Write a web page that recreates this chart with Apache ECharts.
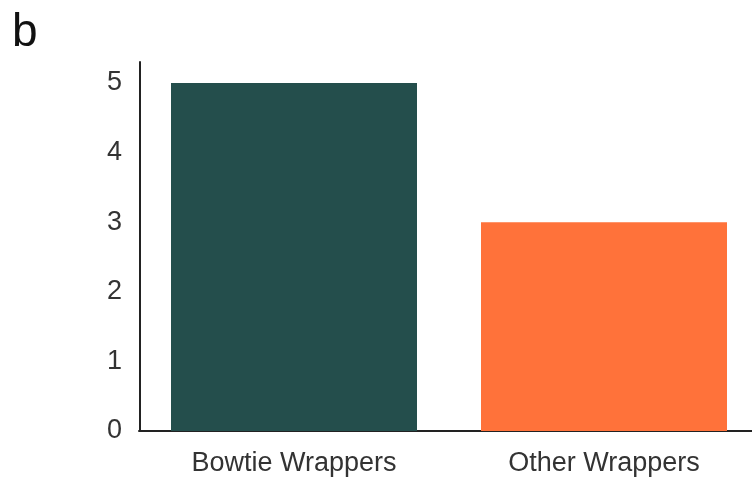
<!DOCTYPE html>
<html>
<head>
<meta charset="utf-8">
<script src="https://cdn.jsdelivr.net/npm/echarts@6/dist/echarts.min.js"></script>
<style>
  html, body { margin: 0; padding: 0; background: #fff; }
  #chart { width: 752px; height: 480px; }
</style>
</head>
<body>
<div id="chart"></div>
<script>
// Wrapper counts by type
const categories = ['Bowtie Wrappers', 'Other Wrappers'];
const counts = [5, 3];
const barColors = ['#244e4c', '#ff723a'];
const yTicks = [0, 1, 2, 3, 4, 5];

const chart = echarts.init(document.getElementById('chart'));
chart.setOption({
  animation: false,
  backgroundColor: '#ffffff',
  textStyle: { fontFamily: 'Liberation Sans, Arial, sans-serif' },
  graphic: [{
    type: 'text',
    left: 12,
    top: 10,
    style: { text: 'b', font: '46px Liberation Sans, Arial, sans-serif', fill: '#111' }
  }],
  // the plot area runs a little past the right edge of the canvas
  grid: { left: 139, width: 620, top: 62, bottom: 49, outerBoundsMode: 'none', containLabel: false },
  xAxis: {
    type: 'category',
    data: categories,
    axisLine: { lineStyle: { color: '#222', width: 2 } },
    axisTick: { show: false },
    axisLabel: { color: '#333', fontSize: 27, margin: 19 }
  },
  yAxis: {
    type: 'value',
    min: 0,
    max: 5.3,
    interval: 1,
    offset: -1,
    splitLine: { show: false },
    axisLine: { show: true, lineStyle: { color: '#222', width: 2 } },
    axisTick: { show: false },
    axisLabel: {
      color: '#333',
      fontSize: 27,
      margin: 18,
      formatter: v => (yTicks.indexOf(v) >= 0 ? String(v) : '')
    }
  },
  series: [{
    type: 'bar',
    data: counts.map((v, i) => ({ value: v, itemStyle: { color: barColors[i] } })),
    barWidth: 246
  }]
});
</script>
</body>
</html>
